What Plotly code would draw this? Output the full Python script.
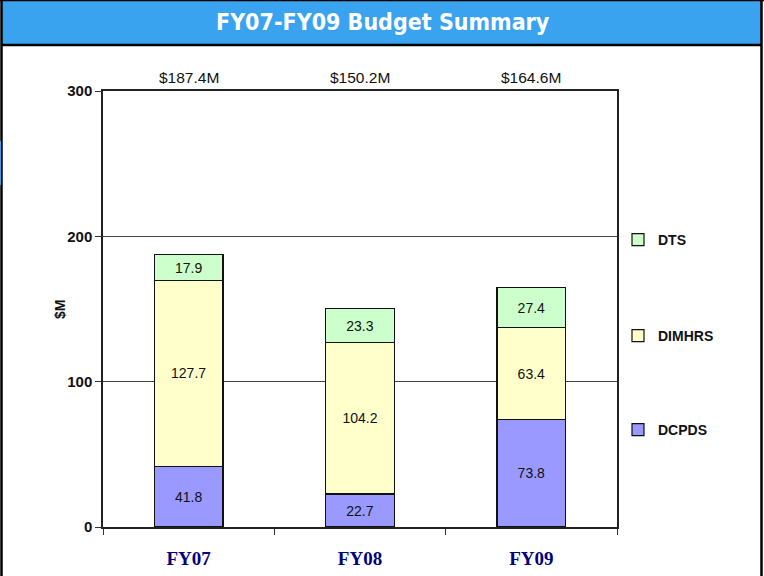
import plotly.graph_objects as go

years = ["FY07", "FY08", "FY09"]
dcpds = [41.8, 22.7, 73.8]
dimhrs = [127.7, 104.2, 63.4]
dts = [17.9, 23.3, 27.4]
totals = ["$187.4M", "$150.2M", "$164.6M"]

# plot area in pixels (used to place the frame pieces outside it)
L, R, T, B = 103, 617, 91, 527


def px(x):
    return (x - L) / (R - L)


def py(y):
    return (B - y) / (B - T)


fig = go.Figure()
series = [("DCPDS", dcpds, "#9999ff", "legend3"),
          ("DIMHRS", dimhrs, "#ffffcc", "legend2"),
          ("DTS", dts, "#ccffcc", "legend")]
for name, vals, col, lg in series:
    fig.add_trace(go.Bar(
        x=years, y=vals, name=name, legend=lg, showlegend=True,
        marker=dict(color=col, line=dict(color="#111111", width=1.2)),
        text=[f"{v:.1f}" for v in vals], textposition="inside",
        insidetextanchor="middle", textangle=0, constraintext="none",
        textfont=dict(family="Liberation Sans, Arial", size=14, color="#111111"),
    ))

for yr, tot in zip(years, totals):
    fig.add_annotation(x=yr, y=py(77), xref="x", yref="paper", text=tot,
                       showarrow=False, yanchor="middle",
                       font=dict(family="Liberation Sans, Arial", size=15.5, color="#111111"))

# title band and slide frame
pp = dict(xref="paper", yref="paper")
shapes = [
    dict(type="rect", x0=px(1), x1=px(761), y0=py(1), y1=py(44),
         fillcolor="#3aa3f0", line=dict(width=0), **pp),
    dict(type="line", x0=px(1), x1=px(762), y0=py(45), y1=py(45),
         line=dict(color="black", width=2.5), **pp),
    dict(type="line", x0=px(0), x1=px(764), y0=py(0.5), y1=py(0.5),
         line=dict(color="black", width=1.5), **pp),
    dict(type="line", x0=px(1.5), x1=px(1.5), y0=py(0), y1=py(576),
         line=dict(color="black", width=2.5), **pp),
    dict(type="line", x0=px(761.5), x1=px(761.5), y0=py(0), y1=py(576),
         line=dict(color="black", width=2.5), **pp),
    dict(type="rect", x0=px(0), x1=px(1), y0=py(141), y1=py(185),
         fillcolor="#3aa3f0", line=dict(width=0), **pp),
]
fig.add_annotation(x=px(383), y=py(22), xref="paper", yref="paper",
                   xanchor="center", yanchor="middle",
                   text="<b>FY07-FY09 Budget Summary</b>", showarrow=False,
                   font=dict(family="DejaVu Sans Condensed, Liberation Sans Narrow, sans-serif",
                             size=23, color="white"))
fig.add_annotation(x=px(60), y=py(310), xref="paper", yref="paper", text="<b>$M</b>",
                   xanchor="center", yanchor="middle", showarrow=False, textangle=-90,
                   font=dict(family="Liberation Sans, Arial", size=14, color="#111111"))

legend_style = dict(x=px(618), xanchor="left", yanchor="middle", bgcolor="rgba(0,0,0,0)",
                    font=dict(family="Liberation Sans, Arial", size=14, color="#111111",
                              weight="bold"))

fig.update_layout(
    width=764, height=576,
    margin=dict(l=L, r=764 - R, t=T, b=576 - B),
    paper_bgcolor="white", plot_bgcolor="white",
    barmode="stack", bargap=0.6,
    shapes=shapes,
    legend=dict(y=py(240), **legend_style),
    legend2=dict(y=py(336), **legend_style),
    legend3=dict(y=py(430), **legend_style),
    xaxis=dict(tickson="boundaries", ticks="outside", ticklen=6, tickcolor="#333",
               showline=True, linecolor="#222", mirror=True, linewidth=1.5,
               ticklabelstandoff=13, automargin=False,
               tickfont=dict(family="Liberation Serif, Times New Roman", size=19,
                             color="#000080", weight="bold")),
    yaxis=dict(range=[0, 300], tickvals=[0, 100, 200, 300], ticks="outside", ticklen=6,
               tickcolor="#333", showline=True, linecolor="#222", mirror=True, linewidth=1.5,
               showgrid=True, gridcolor="#444", gridwidth=1, zeroline=False,
               automargin=False,
               tickfont=dict(family="Liberation Sans, Arial", size=15, color="#111111",
                             weight="bold")),
)

# the page body has an 8px default margin; drop it so the figure sits at 0,0
fig.write_html("out.html", config={"displayModeBar": False},
               post_script="document.body.style.margin='0';")
